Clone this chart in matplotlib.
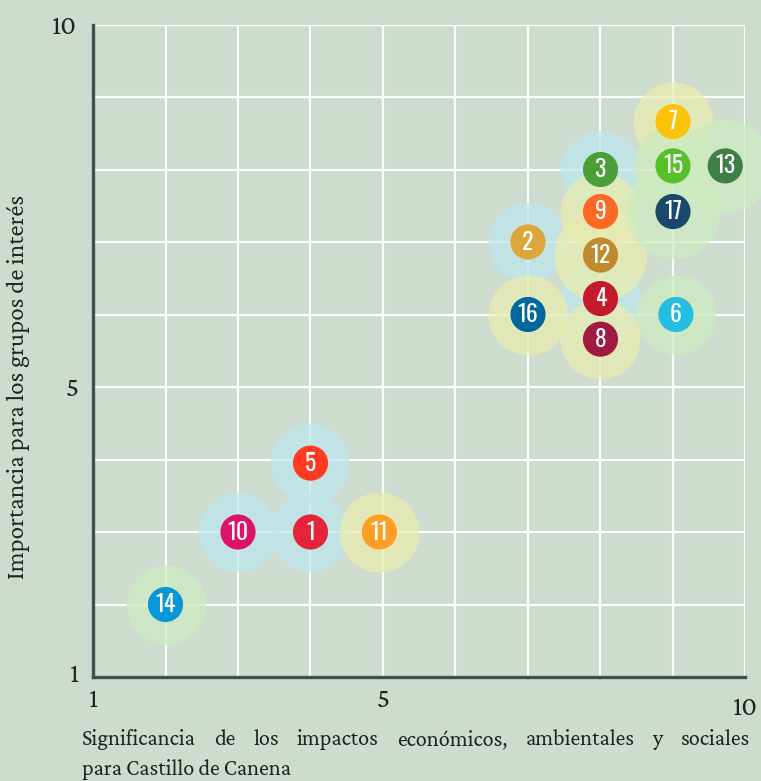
import matplotlib
matplotlib.use("Agg")
import matplotlib.pyplot as plt
import matplotlib.transforms as mtransforms

## Data
ods = [1, 2, 3, 4, 5, 6, 7, 8, 9, 10, 11, 12, 13, 14, 15, 16, 17]
significancia = [4, 7, 8, 8, 4, 9.04, 9, 8, 8, 3, 4.95, 8, 9.72, 2, 9, 7, 9]
importancia = [3, 7, 8, 6.22, 3.95, 6, 8.66, 5.66, 7.42, 3, 3, 6.82, 8.05, 2, 8.05, 6, 7.42]
ods_colors = ['#E5243B', '#DDA63A', '#4C9F38', '#C5192D', '#FF3A21', '#26BDE2',
              '#FCC30B', '#A21942', '#FD6925', '#DD1367', '#FD9D24', '#BF8B2E',
              '#3F7E44', '#0A97D9', '#56C02B', '#00689D', '#19486A']
halo = ['b', 'b', 'b', 'b', 'b', 'g', 'y', 'y', 'y', 'b', 'y', 'y', 'g', 'g', 'g', 'y', 'g']
halo_big = [12, 13, 17]

x_ticks = [1, 5, 10]
y_ticks = [1, 5, 10]
x_title = "Significancia de los impactos económicos, ambientales y sociales"
x_title2 = "para Castillo de Canena"
y_title = "Importancia para los grupos de interés"

## =========================================================================
bg = '#cedbcf'
halo_colors = {'b': '#bfe6ea', 'y': '#e8ecb0', 'g': '#cdebc0'}
serif = ['Crimson Pro', 'Crimson Text', 'Liberation Serif', 'DejaVu Serif']
narrow = ['Oswald', 'Roboto Condensed', 'Saira Condensed', 'DejaVu Sans']

fig = plt.figure(figsize=(7.61, 7.81), dpi=100)
fig.patch.set_facecolor(bg)
ax = fig.add_axes([93 / 761, 1 - 677 / 781, (745.5 - 93) / 761, (677 - 24.5) / 781])
ax.set_facecolor(bg)
ax.set_xlim(1, 10)
ax.set_ylim(1, 10)
ax.set_xticks(range(1, 11), minor=True)
ax.set_yticks(range(1, 11), minor=True)
ax.set_xticks(x_ticks)
ax.set_yticks(y_ticks)
ax.grid(True, which='both', color='white', linewidth=1.6)
ax.set_axisbelow(True)
for s in ['top', 'right']:
    ax.spines[s].set_visible(False)
for s in ['left', 'bottom']:
    ax.spines[s].set_color('#3c524d')
    ax.spines[s].set_linewidth(2.4)
ax.tick_params(which='both', length=0, labelsize=20, colors='#222222')
ax.tick_params(axis='x', pad=8)
ax.tick_params(axis='y', pad=10)
for lab in ax.get_xticklabels() + ax.get_yticklabels():
    lab.set_family(serif)
# the "10" of the x axis sits a bit lower, the "1" of the y axis a bit higher
xl = ax.get_xticklabels()
xl[2].set_transform(xl[2].get_transform() + mtransforms.ScaledTranslation(0, -8 / 100, fig.dpi_scale_trans))
yl = ax.get_yticklabels()
yl[0].set_transform(yl[0].get_transform() + mtransforms.ScaledTranslation(0, 4 / 100, fig.dpi_scale_trans))
yl[2].set_transform(yl[2].get_transform() + mtransforms.ScaledTranslation(-2 / 100, 0, fig.dpi_scale_trans))

# halos
for i in range(len(ods)):
    size = 4500 if ods[i] in halo_big else 3300
    ax.scatter(significancia[i], importancia[i], s=size, color=halo_colors[halo[i]],
               alpha=0.75, linewidths=0, zorder=2, clip_on=False)
# markers
ax.scatter(significancia, importancia, s=640, c=ods_colors, linewidths=0, zorder=3, clip_on=False)
for i in range(len(ods)):
    ax.text(significancia[i], importancia[i], str(ods[i]), color='white', fontsize=17,
            fontweight='bold', family=narrow,
            ha='center', va='center', zorder=4)

# y title
fig.text(18 / 761, 1 - 387 / 781, y_title, rotation=90, ha='center', va='center',
         fontsize=18, family=serif, color='#222222')

# x title, first line justified between x=82 and x=750
fs = 16
words = x_title.split()
texts = []
for w in words:
    texts.append(fig.text(0, 1 - 745 / 781, w, fontsize=fs, family=serif, color='#222222',
                          ha='left', va='baseline'))
fig.canvas.draw()
r = fig.canvas.get_renderer()
widths = [t.get_window_extent(r).width for t in texts]
left, right = 82, 750
gap = (right - left - sum(widths)) / (len(words) - 1)
xpos = left
for t, wd in zip(texts, widths):
    t.set_x(xpos / 761)
    xpos += wd + gap
fig.text(82 / 761, 1 - 775 / 781, x_title2, fontsize=fs, family=serif, color='#222222',
         ha='left', va='baseline')

fig.savefig('out.png', dpi=100, facecolor=bg)
